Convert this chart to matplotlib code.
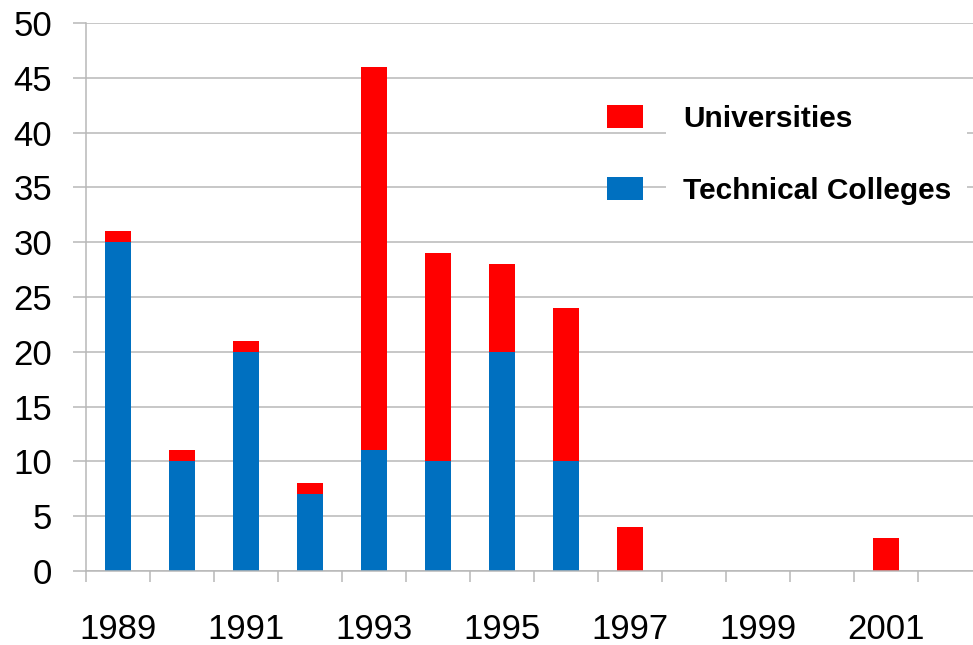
import matplotlib
matplotlib.use("Agg")
import matplotlib.pyplot as plt
from matplotlib.patches import Rectangle

# data
years = list(range(1989, 2003))
technical = [30, 10, 20, 7, 11, 10, 20, 10, 0, 0, 0, 0, 0, 0]
universities = [1, 1, 1, 1, 35, 19, 8, 14, 4, 0, 0, 0, 3, 0]
label_years = [1989, 1991, 1993, 1995, 1997, 1999, 2001]

blue = "#0070c0"
red = "#ff0000"
grid_col = "#b8b8b8"

plt.rcParams["font.family"] = ["Liberation Sans", "DejaVu Sans"]

W, H = 973, 645
fig = plt.figure(figsize=(W / 100, H / 100), dpi=100)
ax = fig.add_axes([86 / W, 74 / H, 1 - 86 / W, (571 - 23) / H])

x = list(range(len(years)))
b1 = ax.bar(x, technical, width=0.4, color=blue, zorder=2, label="Technical Colleges")
b2 = ax.bar(x, universities, width=0.4, bottom=technical, color=red, zorder=2, label="Universities")

ax.set_xlim(-0.5, 13.36)
ax.set_ylim(0, 50)
ax.set_yticks(range(0, 51, 5))
ax.tick_params(axis="y", labelsize=25, length=9.5, width=1.1, color=grid_col, pad=15)

ax.set_xticks([years.index(y) for y in label_years])
ax.set_xticklabels([str(y) for y in label_years])
ax.set_xticks([i - 0.5 for i in range(len(years))], minor=True)
ax.tick_params(axis="x", which="major", labelsize=25, length=0, pad=30)
ax.tick_params(axis="x", which="minor", length=8, width=1.1, color=grid_col)

ax.set_axisbelow(True)
ax.grid(True, axis="y", color=grid_col, linewidth=1.1)
for s in ["top", "right"]:
    ax.spines[s].set_visible(False)
for s in ["left", "bottom"]:
    ax.spines[s].set_color(grid_col)
    ax.spines[s].set_linewidth(1.1)

# white area behind the legend text column
ax.add_patch(Rectangle((666 / W, 1 - 215 / H), (967 - 666) / W, (215 - 98) / H,
                       transform=fig.transFigure, facecolor="white", edgecolor="none", zorder=1))

leg = ax.legend([b2, b1], ["Universities", "Technical Colleges"],
                loc="upper left", bbox_to_anchor=(607 / W, 1 - 105 / H),
                bbox_transform=fig.transFigure, frameon=False,
                prop={"size": 21.5, "weight": "bold"},
                handlelength=1.2, handleheight=0.8, handletextpad=1.35,
                labelspacing=1.47, borderpad=0, borderaxespad=0)

fig.savefig("out.png", dpi=100)
